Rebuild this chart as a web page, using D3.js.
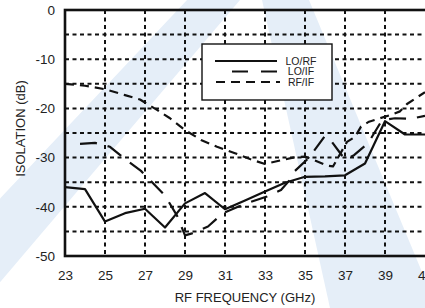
<!DOCTYPE html>
<html><head><meta charset="utf-8">
<script src="https://cdn.jsdelivr.net/npm/d3@7/dist/d3.min.js"></script>
<style>
html,body{margin:0;padding:0;background:#fff;}
svg{display:block;}
text{font-family:"Liberation Sans",Arial,Helvetica,sans-serif;fill:#222;}
</style></head>
<body>
<svg id="chart" width="425" height="308"></svg>
<script>
// ---- data ----
const xTicks = [23,25,27,29,31,33,35,37,39,41];
const yTicks = [0,-10,-20,-30,-40,-50];
const seriesNames = ["LO/RF","LO/IF","RF/IF"];

const loRfFreq = [23,24,25,26,27,28,29,30,31,32,33,34,35,36,37,38,39,40,41];
const loRfVal  = [-36.0,-36.4,-43.0,-41.3,-40.4,-44.2,-39.3,-37.2,-40.5,-38.7,-36.9,-35.1,-33.9,-33.8,-33.6,-31.2,-22.6,-25.3,-25.3];

const loIfFreq = [23.75,24.5,25.25,26,26.8,27.5,28,28.6,29,29.35,30.15,30.9,31.65,32.3,33.1,33.8,34.25,34.5,35.2,36,36.25,37,37.45,38.15,38.85,39.5,40.3,41];
const loIfVal  = [-27.2,-27.0,-27.8,-30.3,-32.7,-35.6,-37.7,-41.8,-45.8,-45.4,-44.0,-41.3,-40.0,-39.0,-37.9,-36.6,-34.5,-32.7,-30.0,-25.6,-26.3,-30.4,-29.5,-27.1,-22.4,-22.0,-22.1,-21.5];

const rfIfFreq = [23,24,25,26,26.75,27.6,28.25,29,29.8,30.6,31.5,32.25,33,33.75,34.4,35,35.5,36.1,36.4,37.1,37.5,37.8,38.2,38.75,39.3,39.75,40.1,41];
const rfIfVal  = [-15.0,-15.4,-16.1,-17.3,-18.2,-20.3,-22.0,-24.4,-26.4,-27.8,-29.1,-30.3,-31.3,-30.6,-30.0,-29.8,-30.6,-31.6,-31.8,-26.8,-25.8,-23.7,-22.7,-22.0,-21.3,-20.6,-19.1,-16.7];

// ---- setup ----
const svg = d3.select("#chart");
const x = d3.scaleLinear().domain([23,41]).range([65,425]);
const y = d3.scaleLinear().domain([-50,0]).range([256,10]);

// watermark
const wm = svg.append("g").attr("fill","#e5eef8");
const wmPolys = [
  [[187,0],[240,0],[-22,308],[-103,308]],
  [[262,0],[309,0],[437,308],[330,308]]
];
wmPolys.forEach(p=>wm.append("polygon").attr("points",p.map(d=>d.join(",")).join(" ")));

// grid
const grid = svg.append("g").attr("stroke","#111").attr("stroke-width",2).attr("stroke-dasharray","4,3.5");
d3.range(-45,0,5).forEach(v=>grid.append("line").attr("x1",x(23)).attr("x2",x(41)).attr("y1",y(v)).attr("y2",y(v)));
[25,27,29,31,33,35,37,39].forEach(v=>grid.append("line").attr("x1",x(v)).attr("x2",x(v)).attr("y1",y(0)).attr("y2",y(-50)));

// frame
svg.append("rect").attr("x",x(23)).attr("y",y(0)).attr("width",x(41)-x(23)+4).attr("height",y(-50)-y(0))
  .attr("fill","none").attr("stroke","#111").attr("stroke-width",2.6);

// axes
const fmt = d => String(d);
const xAxis = d3.axisBottom(x).tickValues(xTicks).tickFormat(fmt).tickSize(0).tickPadding(14);
const gx = svg.append("g").attr("transform",`translate(0,${y(-50)})`).call(xAxis);
gx.select(".domain").remove();
gx.selectAll("text").attr("font-size","13.5px").attr("fill","#222").style("font-family","'Liberation Sans',Arial,sans-serif");

const yAxis = d3.axisLeft(y).tickValues(yTicks).tickFormat(fmt).tickSize(0).tickPadding(10);
const gy = svg.append("g").attr("transform",`translate(${x(23)},0)`).call(yAxis);
gy.select(".domain").remove();
gy.selectAll("text").attr("font-size","13.5px").attr("fill","#222").style("font-family","'Liberation Sans',Arial,sans-serif");

svg.append("text").attr("x",245).attr("y",302).attr("text-anchor","middle").attr("font-size","13px").text("RF FREQUENCY (GHz)");
svg.append("text").attr("transform","translate(24.5,128.5) rotate(-90)").attr("text-anchor","middle").attr("font-size","13px").text("ISOLATION (dB)");

// lines
const line = d3.line().x(d=>x(d[0])).y(d=>y(d[1]));
const styles = [
  {dash:null},
  {dash:"17,11"},
  {dash:"9,6"}
];
const data = [
  d3.zip(loRfFreq, loRfVal),
  d3.zip(loIfFreq, loIfVal),
  d3.zip(rfIfFreq, rfIfVal)
];
const plot = svg.append("g");
plot.append("clipPath").attr("id","clip").append("rect").attr("x",x(23)).attr("y",y(0)).attr("width",x(41)-x(23)).attr("height",y(-50)-y(0));
data.forEach((d,i)=>{
  plot.append("path").attr("d",line(d)).attr("fill","none").attr("stroke","#111")
    .attr("stroke-width",2.2).attr("stroke-linejoin","round")
    .attr("stroke-dasharray",styles[i].dash).attr("clip-path","url(#clip)");
});

// legend
const lg = svg.append("g");
lg.append("rect").attr("x",202).attr("y",44).attr("width",130).attr("height",56).attr("fill","#fff").attr("stroke","#111").attr("stroke-width",1.4);
const legY = [61,71.5,82];
const legX = [[215,277],[232,277],[216,280]];
seriesNames.forEach((n,i)=>{
  lg.append("line").attr("x1",legX[i][0]).attr("x2",legX[i][1]).attr("y1",legY[i]).attr("y2",legY[i])
    .attr("stroke","#111").attr("stroke-width",2).attr("stroke-dasharray",i==1?"16,13":(i==2?"9,6":null));
  lg.append("text").attr("x",301).attr("y",legY[i]).attr("dy","0.35em").attr("text-anchor","middle").attr("font-size","10.5px").text(n);
});
</script>
</body></html>
